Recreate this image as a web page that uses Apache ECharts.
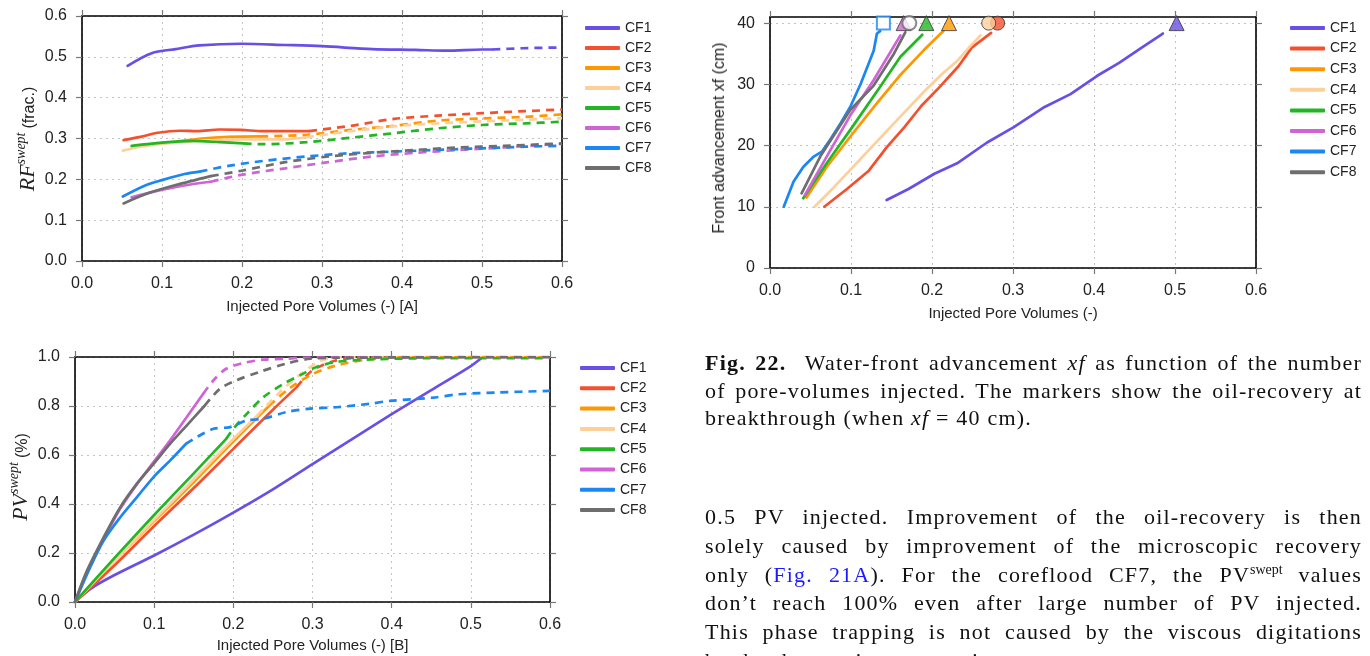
<!DOCTYPE html>
<html>
<head>
<meta charset="utf-8">
<script src="https://cdn.jsdelivr.net/npm/echarts@6/dist/echarts.min.js"></script>
<style>
html,body{margin:0;padding:0;background:#fff;}
#wrap{position:relative;width:1370px;height:656px;overflow:hidden;background:#fff;}
#chart{position:absolute;left:0;top:0;width:1370px;height:656px;}
.ytitle{position:absolute;white-space:nowrap;transform:translate(-50%,-50%) rotate(-90deg);color:#222;}
.sans{font-family:"Liberation Sans",Arial,sans-serif;font-size:16px;}
.math{font-family:"Liberation Serif",serif;font-style:italic;font-size:22px;}
.mathsup{font-family:"Liberation Serif",serif;font-style:italic;font-size:14px;vertical-align:9px;}
.txt{position:absolute;left:705px;width:657px;font-family:"Liberation Serif",serif;font-size:22px;letter-spacing:1.2px;color:#111;}
.txt div{white-space:nowrap;}
.j{text-align:justify;text-align-last:justify;white-space:normal !important;}
.link{color:#1a1aff;}
</style>
</head>
<body>
<div id="wrap">
<div id="chart"></div>
<div class="ytitle" style="left:26px;top:139px;"><span class="math">RF</span><span class="mathsup">swept</span> <span class="sans">(frac.)</span></div>
<div class="ytitle" style="left:719px;top:138px;"><span class="sans">Front advancement xf (cm)</span></div>
<div class="ytitle" style="left:19px;top:477px;"><span class="math">PV</span><span class="mathsup">swept</span> <span class="sans">(%)</span></div>
<div class="txt" style="top:349px;line-height:27.5px;">
  <div class="j"><b>Fig. 22.</b>&nbsp; Water-front advancement <i>xf</i> as function of the number</div>
  <div class="j">of pore-volumes injected. The markers show the oil-recovery at</div>
  <div>breakthrough (when <i>xf</i> = 40 cm).</div>
</div>
<div class="txt" style="top:503px;line-height:28.8px;">
  <div class="j">0.5 PV injected. Improvement of the oil-recovery is then</div>
  <div class="j">solely caused by improvement of the microscopic recovery</div>
  <div class="j">only (<span class="link">Fig. 21A</span>). For the coreflood CF7, the PV<sup style="font-size:14px;line-height:0;letter-spacing:0;">swept</sup> values</div>
  <div class="j">don’t reach 100% even after large number of PV injected.</div>
  <div class="j">This phase trapping is not caused by the viscous digitations</div>
  <div>but by the gravity segregation.</div>
</div>
</div>
<script>
// ---------- data ----------
const seriesNames = ['CF1','CF2','CF3','CF4','CF5','CF6','CF7','CF8'];
const xTicks = [0.0,0.1,0.2,0.3,0.4,0.5,0.6];
const xfTicks = [0,10,20,30,40];

// Panel A: RF swept vs injected PV (solid part, dashed part)
const rfCF1s = [[0.057,0.478],[0.087,0.509],[0.117,0.519],[0.147,0.528],[0.199,0.532],[0.254,0.529],[0.30,0.526],[0.363,0.519],[0.417,0.517],[0.456,0.515],[0.50,0.518],[0.513,0.518]];
const rfCF1d = [[0.513,0.518],[0.55,0.521],[0.6,0.523]];
const rfCF2s = [[0.052,0.296],[0.073,0.304],[0.095,0.314],[0.122,0.319],[0.144,0.318],[0.172,0.322],[0.199,0.321],[0.226,0.318],[0.284,0.318]];
const rfCF2d = [[0.284,0.318],[0.336,0.331],[0.39,0.348],[0.445,0.356],[0.50,0.362],[0.554,0.367],[0.6,0.371]];
const rfCF3s = [[0.079,0.284],[0.117,0.292],[0.15,0.300],[0.183,0.304],[0.223,0.305]];
const rfCF3d = [[0.223,0.305],[0.281,0.309],[0.336,0.321],[0.39,0.331],[0.445,0.344],[0.50,0.349],[0.554,0.353],[0.6,0.359]];
const rfCF4s = [[0.051,0.270],[0.073,0.280],[0.106,0.288],[0.144,0.294],[0.199,0.298],[0.254,0.298],[0.28,0.303]];
const rfCF4d = [[0.28,0.303],[0.336,0.318],[0.39,0.330],[0.445,0.337],[0.50,0.342],[0.554,0.346],[0.6,0.350]];
const rfCF5s = [[0.062,0.282],[0.10,0.290],[0.139,0.294],[0.172,0.291],[0.202,0.288]];
const rfCF5d = [[0.202,0.288],[0.226,0.286],[0.281,0.291],[0.336,0.302],[0.39,0.313],[0.445,0.325],[0.50,0.333],[0.554,0.337],[0.6,0.341]];
const rfCF6s = [[0.062,0.156],[0.09,0.170],[0.128,0.185],[0.161,0.194]];
const rfCF6d = [[0.161,0.194],[0.199,0.211],[0.254,0.227],[0.308,0.242],[0.363,0.256],[0.417,0.265],[0.472,0.272],[0.527,0.278],[0.6,0.287]];
const rfCF7s = [[0.051,0.158],[0.079,0.185],[0.10,0.198],[0.128,0.213],[0.147,0.219]];
const rfCF7d = [[0.147,0.219],[0.183,0.233],[0.226,0.245],[0.281,0.256],[0.336,0.264],[0.39,0.268],[0.445,0.272],[0.50,0.276],[0.554,0.280],[0.6,0.282]];
const rfCF8s = [[0.052,0.141],[0.084,0.167],[0.117,0.186],[0.161,0.208]];
const rfCF8d = [[0.161,0.208],[0.199,0.221],[0.254,0.242],[0.308,0.256],[0.363,0.265],[0.417,0.272],[0.472,0.278],[0.527,0.282],[0.6,0.288]];

// Panel B: PV swept vs injected PV
const pvCF1s = [[0,0],[0.02,0.055],[0.05,0.11],[0.1,0.19],[0.15,0.275],[0.2,0.365],[0.25,0.46],[0.3,0.563],[0.35,0.665],[0.4,0.767],[0.45,0.865],[0.5,0.963],[0.515,1.0]];
const pvCF1d = [];
const pvCF2s = [[0,0],[0.05,0.15],[0.1,0.31],[0.15,0.465],[0.2,0.625],[0.25,0.785],[0.28,0.877]];
const pvCF2d = [[0.28,0.877],[0.299,0.943],[0.327,0.984],[0.354,0.997],[0.4,1.0],[0.6,1.0]];
const pvCF3s = [[0,0],[0.05,0.17],[0.1,0.33],[0.15,0.49],[0.2,0.655],[0.245,0.80]];
const pvCF3d = [[0.245,0.80],[0.27,0.87],[0.3,0.93],[0.33,0.965],[0.37,0.99],[0.42,1.0],[0.6,1.0]];
const pvCF4s = [[0,0],[0.05,0.17],[0.1,0.335],[0.15,0.50],[0.2,0.665],[0.23,0.76]];
const pvCF4d = [[0.23,0.76],[0.26,0.86],[0.285,0.93],[0.305,0.975],[0.32,0.995],[0.35,1.0],[0.6,1.0]];
const pvCF5s = [[0,0],[0.05,0.18],[0.1,0.355],[0.15,0.525],[0.191,0.666]];
const pvCF5d = [[0.191,0.666],[0.2,0.707],[0.217,0.768],[0.238,0.836],[0.263,0.89],[0.284,0.925],[0.305,0.959],[0.33,0.98],[0.372,0.99],[0.45,0.995],[0.6,0.995]];
const pvCF6s = [[0,0],[0.015,0.12],[0.036,0.255],[0.057,0.38],[0.078,0.48],[0.099,0.57],[0.12,0.659],[0.141,0.754],[0.162,0.85]];
const pvCF6d = [[0.162,0.85],[0.175,0.905],[0.191,0.952],[0.212,0.975],[0.238,0.989],[0.267,0.993],[0.288,0.997],[0.33,1.0],[0.6,1.0]];
const pvCF7s = [[0,0],[0.019,0.14],[0.036,0.25],[0.057,0.345],[0.078,0.427],[0.099,0.509],[0.12,0.577],[0.14,0.645]];
const pvCF7d = [[0.14,0.645],[0.154,0.673],[0.175,0.707],[0.196,0.714],[0.217,0.741],[0.238,0.748],[0.267,0.775],[0.297,0.789],[0.33,0.795],[0.372,0.809],[0.398,0.821],[0.452,0.834],[0.485,0.848],[0.534,0.855],[0.6,0.862]];
const pvCF8s = [[0,0],[0.015,0.127],[0.036,0.263],[0.057,0.386],[0.078,0.482],[0.099,0.563],[0.12,0.645],[0.141,0.72],[0.164,0.802]];
const pvCF8d = [[0.164,0.802],[0.183,0.87],[0.204,0.905],[0.233,0.939],[0.267,0.973],[0.297,0.993],[0.33,0.997],[0.6,1.0]];

// Panel C: front advancement xf (cm) vs injected PV
const xfCF1 = [[0.144,11.1],[0.171,12.9],[0.203,15.4],[0.231,17.1],[0.268,20.5],[0.301,23.0],[0.339,26.3],[0.371,28.4],[0.404,31.4],[0.431,33.5],[0.458,35.9],[0.485,38.3]];
const xfCF2 = [[0.067,10.0],[0.095,12.9],[0.122,15.9],[0.144,19.7],[0.166,23.0],[0.187,26.5],[0.209,29.5],[0.233,33.0],[0.249,36.0],[0.273,38.4]];
const xfCF3 = [[0.045,11.5],[0.07,16.5],[0.1,21.6],[0.13,26.6],[0.16,31.4],[0.19,35.6],[0.214,38.7]];
const xfCF4 = [[0.055,10.0],[0.079,13.2],[0.106,17.0],[0.133,20.8],[0.16,24.6],[0.193,29.2],[0.214,31.9],[0.231,33.8],[0.247,36.2],[0.26,38.0]];
const xfCF5 = [[0.041,11.4],[0.070,17.1],[0.103,23.3],[0.136,29.6],[0.161,34.5],[0.188,38.1]];
const xfCF6 = [[0.043,11.9],[0.070,18.2],[0.099,24.9],[0.128,30.7],[0.161,38.0]];
const xfCF7 = [[0.017,10.0],[0.029,14.1],[0.041,16.5],[0.054,18.2],[0.064,19.0],[0.074,20.9],[0.087,23.6],[0.099,26.3],[0.112,30.1],[0.12,32.8],[0.128,35.5],[0.132,38.3],[0.136,38.7]];
const xfCF8 = [[0.039,12.2],[0.062,18.2],[0.099,25.8],[0.128,29.8],[0.153,35.0],[0.167,38.5]];
// breakthrough markers (xf = 40 cm)
const btPV = [0.502,0.281,0.221,0.270,0.193,0.165,0.140,0.172];
const btXf = [40,40,40,40,40,40,40,40];

// ---------- styling ----------
const colors = ['#6a4fe6','#f5502e','#ff9800','#fdd09b','#23b624','#d063d6','#1b87f2','#6e6e6e'];
const FONT = '"Liberation Sans", Arial, sans-serif';
const rfSolid = [rfCF1s,rfCF2s,rfCF3s,rfCF4s,rfCF5s,rfCF6s,rfCF7s,rfCF8s];
const rfDash  = [rfCF1d,rfCF2d,rfCF3d,rfCF4d,rfCF5d,rfCF6d,rfCF7d,rfCF8d];
const pvSolid = [pvCF1s,pvCF2s,pvCF3s,pvCF4s,pvCF5s,pvCF6s,pvCF7s,pvCF8s];
const pvDash  = [pvCF1d,pvCF2d,pvCF3d,pvCF4d,pvCF5d,pvCF6d,pvCF7d,pvCF8d];
const xfLines = [xfCF1,xfCF2,xfCF3,xfCF4,xfCF5,xfCF6,xfCF7,xfCF8];
const btSymbol = ['triangle','circle','triangle','circle','triangle','triangle','rect','circle'];
const btOpen = [false,false,false,false,false,false,true,true];
const btOrder = [0,2,4,5,7,6,1,3];

const grids = [
  {left:82, top:16, width:480, height:245},    // A
  {left:770, top:17, width:486, height:251},   // C
  {left:75, top:357, width:475, height:245}    // B
];

function axisCommon(extra){
  return Object.assign({
    type:'value',
    axisLine:{show:true,onZero:false,lineStyle:{color:'#000',width:1.6}},
    axisTick:{show:true,inside:false,length:6,lineStyle:{color:'#777',width:1.2}},
  }, extra);
}
const labelStyle = {fontSize:16,color:'#222',fontFamily:FONT};
const nameStyle = {fontSize:15,color:'#222',fontFamily:FONT};
const splitStyle = {show:true,lineStyle:{type:[2,4],color:'#c4c4c4',width:1}};

const xAxes = [], yAxes = [];
const xNames = ['Injected Pore Volumes (-) [A]','Injected Pore Volumes (-)','Injected Pore Volumes (-) [B]'];
const nameGaps = [38,38,36];
const yCfg = [
  {min:0,max:0.6,interval:0.1,fmt:v=>v.toFixed(1)},
  {min:0,max:41,interval:10,fmt:v=>String(v),custom:xfTicks},
  {min:0,max:1.0,interval:0.2,fmt:v=>v.toFixed(1)}
];
for(let g=0;g<3;g++){
  xAxes.push(axisCommon({gridIndex:g,position:'bottom',min:0,max:0.6,interval:0.1,
    axisLabel:Object.assign({formatter:v=>v.toFixed(1),margin:15},labelStyle),
    splitLine:splitStyle,name:xNames[g],nameLocation:'middle',nameGap:nameGaps[g],nameTextStyle:nameStyle}));
  xAxes.push(axisCommon({gridIndex:g,position:'top',min:0,max:0.6,interval:0.1,
    axisLabel:{show:false},splitLine:{show:false}}));
  const c = yCfg[g];
  const yl = axisCommon({gridIndex:g,position:'left',min:c.min,max:c.max,interval:c.interval,
    axisLabel:Object.assign({formatter:c.fmt,margin:15},labelStyle),splitLine:splitStyle});
  const yr = axisCommon({gridIndex:g,position:'right',min:c.min,max:c.max,interval:c.interval,
    axisLabel:{show:false},splitLine:{show:false}});
  if(c.custom){
    yl.axisLabel.customValues = c.custom; yl.axisTick.customValues = c.custom;
    yr.axisTick = Object.assign({}, yr.axisTick, {customValues:c.custom});
  }
  yAxes.push(yl); yAxes.push(yr);
}

const series = [];
function lineSeries(g, i, data, dashed){
  return {type:'line', name:seriesNames[i], xAxisIndex:g*2, yAxisIndex:g*2, data:data,
    showSymbol:false, smooth:0.3, animation:false, z:2+i,
    lineStyle:{color:colors[i],width:2.7,type:dashed?[8,6]:'solid',cap:dashed?'butt':'round'},
    itemStyle:{color:colors[i]}};
}
for(let i=0;i<8;i++){
  series.push(lineSeries(0,i,rfSolid[i],false));
  if(rfDash[i].length) series.push(lineSeries(0,i,rfDash[i],true));
  series.push(lineSeries(2,i,pvSolid[i],false));
  if(pvDash[i].length) series.push(lineSeries(2,i,pvDash[i],true));
  const s = lineSeries(1,i,xfLines[i],false); s.smooth = false;
  series.push(s);
}
btOrder.forEach((i,k)=>{
  series.push({type:'scatter', name:seriesNames[i]+' breakthrough', xAxisIndex:2, yAxisIndex:2,
    data:[[btPV[i],btXf[i]]], symbol:btSymbol[i], symbolSize:btSymbol[i]==='rect'?13:(btSymbol[i]==='circle'?14:15),
    clip:false, z:20+k, animation:false,
    itemStyle:{color:btOpen[i]?'#fff':colors[i], borderColor:btOpen[i]?colors[i]:'#333', borderWidth:btOpen[i]?2:1}});
});

function legendAt(left, top, gap){
  return {data:seriesNames, orient:'vertical', left:left, top:top, icon:'roundRect',
    itemWidth:35, itemHeight:4, itemGap:gap, selectedMode:false,
    textStyle:{fontSize:14,color:'#222',fontFamily:FONT,lineHeight:14}};
}

const chart = echarts.init(document.getElementById('chart'), null, {renderer:'canvas'});
chart.setOption({
  animation:false,
  grid:grids,
  xAxis:xAxes,
  yAxis:yAxes,
  legend:[legendAt(580,16,6), legendAt(1285,16,6.6), legendAt(575,356,6.3)],
  series:series
});
</script>
</body>
</html>
